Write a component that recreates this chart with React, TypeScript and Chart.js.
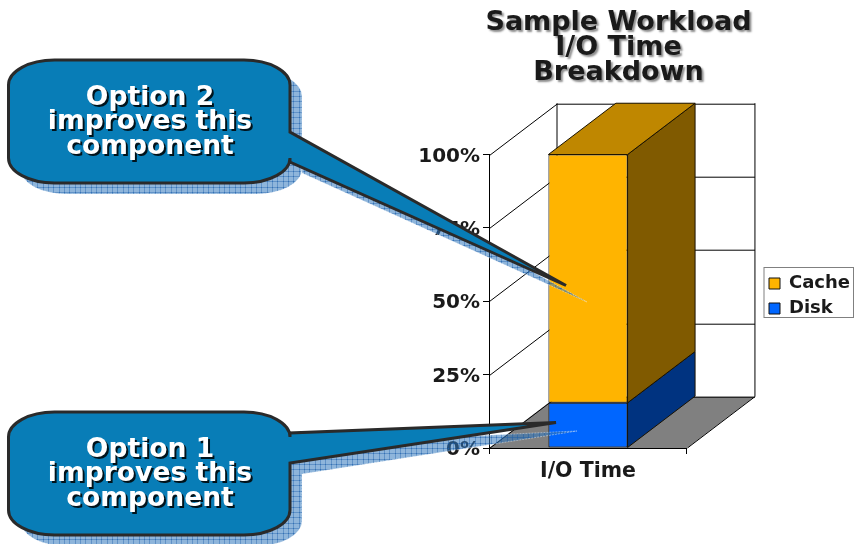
import React, { useEffect, useRef } from "react";
import { Chart, registerables } from "chart.js";

Chart.register(...registerables);

const categories = ["I/O Time"];
const diskValues = [15.4];
const cacheValues = [84.6];
const titleLines = ["Sample Workload", "I/O Time", "Breakdown"];
const option2Lines = ["Option 2", "improves this", "component"];
const option1Lines = ["Option 1", "improves this", "component"];

const FONT = '"DejaVu Sans", Verdana, sans-serif';
const DX = 67.5;
const DY = -51.3;

type Callout = {
  lines: string[];
  top: number;
  baseA: number;
  baseB: number;
  tip: [number, number];
  shadowTip: [number, number];
};

const callouts: Callout[] = [
  { lines: option2Lines, top: 60, baseA: 132, baseB: 162, tip: [566, 285.5], shadowTip: [587, 302] },
  { lines: option1Lines, top: 412, baseA: 433, baseB: 463, tip: [556, 422.5], shadowTip: [577, 431] },
];

function bubblePath(ctx: CanvasRenderingContext2D, ox: number, oy: number, c: Callout, tip: [number, number]) {
  const l = 8.5 + ox, r = 290 + ox, t = c.top + oy, b = c.top + 123 + oy;
  const rx = 46, ry = 25;
  ctx.beginPath();
  ctx.moveTo(l + rx, t);
  ctx.lineTo(r - rx, t);
  ctx.ellipse(r - rx, t + ry, rx, ry, 0, -Math.PI / 2, 0);
  ctx.lineTo(r, c.baseA + oy);
  ctx.lineTo(tip[0], tip[1]);
  ctx.lineTo(r, c.baseB + oy);
  ctx.lineTo(r, b - ry);
  ctx.ellipse(r - rx, b - ry, rx, ry, 0, 0, Math.PI / 2);
  ctx.lineTo(l + rx, b);
  ctx.ellipse(l + rx, b - ry, rx, ry, 0, Math.PI / 2, Math.PI);
  ctx.lineTo(l, t + ry);
  ctx.ellipse(l + rx, t + ry, rx, ry, 0, Math.PI, Math.PI * 1.5);
  ctx.closePath();
}

function shadowPattern(ctx: CanvasRenderingContext2D) {
  const tile = document.createElement("canvas");
  tile.width = 16;
  tile.height = 16;
  const t = tile.getContext("2d")!;
  t.fillStyle = "rgba(50,120,190,0.55)";
  t.fillRect(0, 0, 16, 16);
  [0, 5, 11].forEach((p) => {
    t.clearRect(0, p, 16, 1);
    t.clearRect(p, 0, 1, 16);
  });
  t.fillStyle = "rgba(30,100,175,0.7)";
  [0, 5, 11].forEach((p) => {
    t.fillRect(0, p, 16, 1);
    t.fillRect(p, 0, 1, 16);
  });
  return ctx.createPattern(tile, "repeat")!;
}

const scenePlugin = {
  id: "scene",
  afterLayout(chart: any) {
    const title = chart.titleBlock;
    title.left = 383;
    title.right = 854;
    const legend = chart.legend;
    legend.left = 762;
    legend.right = 854;
    legend.top = 257.5;
    legend.bottom = 334.5;
    if (!title.__patched) {
      const draw = title.draw.bind(title);
      title.draw = () => {
        const c = chart.ctx;
        c.save();
        c.shadowColor = "rgba(0,0,0,0.45)";
        c.shadowOffsetX = 2;
        c.shadowOffsetY = 2;
        c.shadowBlur = 2;
        draw();
        c.restore();
      };
      title.__patched = true;
    }
  },
  beforeDraw(chart: any) {
    const { ctx, chartArea: a, scales } = chart;
    const y = scales.y;
    ctx.save();
    ctx.fillStyle = "#ffffff";
    ctx.fillRect(0, 0, chart.width, chart.height);
    // floor
    ctx.fillStyle = "#808080";
    ctx.beginPath();
    ctx.moveTo(a.left, a.bottom);
    ctx.lineTo(a.left + DX, a.bottom + DY);
    ctx.lineTo(a.right + DX, a.bottom + DY);
    ctx.lineTo(a.right, a.bottom);
    ctx.closePath();
    ctx.fill();
    // side and back wall gridlines
    ctx.strokeStyle = "#000000";
    ctx.lineWidth = 1;
    y.ticks.forEach((t: any) => {
      const py = Math.round(y.getPixelForValue(t.value)) + 0.5;
      ctx.beginPath();
      ctx.moveTo(a.left + 0.5, py);
      ctx.lineTo(a.left + DX + 0.5, py + DY);
      ctx.lineTo(a.right + DX + 0.5, py + DY);
      ctx.stroke();
    });
    ctx.beginPath();
    ctx.moveTo(a.left + DX + 0.5, a.top + DY);
    ctx.lineTo(a.left + DX + 0.5, a.bottom + DY);
    ctx.moveTo(a.right + DX + 0.5, a.top + DY);
    ctx.lineTo(a.right + DX + 0.5, a.bottom + DY);
    ctx.moveTo(a.right + 0.5, a.bottom);
    ctx.lineTo(a.right + DX + 0.5, a.bottom + DY);
    ctx.stroke();
    // legend frame
    ctx.strokeStyle = "#808080";
    ctx.strokeRect(764, 267.5, 89.5, 50);
    ctx.restore();
  },
  beforeDatasetsDraw(chart: any) {
    const { ctx } = chart;
    ctx.save();
    ctx.strokeStyle = "#1a1200";
    ctx.lineWidth = 1;
    chart.data.datasets.forEach((ds: any, i: number) => {
      const bar = chart.getDatasetMeta(i).data[0] as any;
      const right = bar.x + bar.width / 2;
      const left = bar.x - bar.width / 2;
      ctx.fillStyle = ds.sideColor;
      ctx.beginPath();
      ctx.moveTo(right, bar.y);
      ctx.lineTo(right + DX, bar.y + DY);
      ctx.lineTo(right + DX, bar.base + DY);
      ctx.lineTo(right, bar.base);
      ctx.closePath();
      ctx.fill();
      ctx.stroke();
      if (i === chart.data.datasets.length - 1) {
        ctx.fillStyle = ds.topColor;
        ctx.beginPath();
        ctx.moveTo(left, bar.y);
        ctx.lineTo(left + DX, bar.y + DY);
        ctx.lineTo(right + DX, bar.y + DY);
        ctx.lineTo(right, bar.y);
        ctx.closePath();
        ctx.fill();
        ctx.stroke();
      }
    });
    ctx.restore();
  },
  afterDraw(chart: any) {
    const { ctx } = chart;
    const pattern = shadowPattern(ctx);
    callouts.forEach((c) => {
      ctx.save();
      bubblePath(ctx, 12, 11, c, c.shadowTip);
      ctx.fillStyle = pattern;
      ctx.fill();
      ctx.setLineDash([2, 1]);
      ctx.strokeStyle = "rgba(255,255,255,0.7)";
      ctx.lineWidth = 0.6;
      ctx.stroke();
      ctx.setLineDash([]);
      bubblePath(ctx, 0, 0, c, c.tip);
      ctx.fillStyle = "#087db7";
      ctx.fill();
      ctx.strokeStyle = "#2a2a2a";
      ctx.lineWidth = 3;
      ctx.lineJoin = "miter";
      ctx.stroke();
      ctx.font = `bold 26.6px ${FONT}`;
      ctx.textAlign = "center";
      ctx.textBaseline = "middle";
      ctx.fillStyle = "#ffffff";
      ctx.shadowColor = "rgba(0,0,0,0.85)";
      ctx.shadowOffsetX = 2;
      ctx.shadowOffsetY = 2;
      ctx.shadowBlur = 0;
      c.lines.forEach((line, i) => {
        ctx.fillText(line, 150, c.top + 37.7 + i * 24.5);
      });
      ctx.restore();
    });
  },
};

export default function App() {
  const ref = useRef<HTMLCanvasElement>(null);
  useEffect(() => {
    const chart = new Chart(ref.current!, {
      type: "bar",
      data: {
        labels: categories,
        datasets: [
          {
            label: "Disk",
            data: diskValues,
            backgroundColor: "#0066ff",
            borderColor: "#101010",
            borderWidth: 1,
            borderSkipped: false,
            sideColor: "#003380",
          } as any,
          {
            label: "Cache",
            data: cacheValues,
            backgroundColor: "#ffb400",
            borderColor: "#101010",
            borderWidth: 1,
            borderSkipped: false,
            sideColor: "#805a00",
            topColor: "#bf8700",
          } as any,
        ],
      },
      options: {
        responsive: false,
        animation: false,
        layout: { padding: { right: 69 } },
        datasets: { bar: { barPercentage: 0.4, categoryPercentage: 1 } },
        scales: {
          x: {
            stacked: true,
            afterFit: (s: any) => {
              s.height = 96;
            },
            border: { color: "#000", width: 1 },
            grid: { drawOnChartArea: false, color: "#000", tickLength: 6, offset: true },
            ticks: { color: "#1a1a1a", font: { family: FONT, size: 20.5, weight: "bold" }, padding: 5 },
          },
          y: {
            stacked: true,
            min: 0,
            max: 100,
            afterFit: (s: any) => {
              s.width = 489;
            },
            border: { color: "#000", width: 1 },
            grid: { drawOnChartArea: false, color: "#000", tickLength: 6 },
            ticks: {
              stepSize: 25,
              color: "#1a1a1a",
              padding: 3,
              labelOffset: 2,
              font: { family: FONT, size: 20, weight: "bold" },
              callback: (v: any) => `${v}%`,
            },
          },
        },
        plugins: {
          title: {
            display: true,
            text: titleLines,
            color: "#1a1a1a",
            font: { family: FONT, size: 27, weight: "bold", lineHeight: 0.92 },
            padding: { top: 10.5, bottom: 69.5 },
          },
          legend: {
            display: true,
            position: "right",
            reverse: true,
            labels: {
              boxWidth: 11,
              boxHeight: 11,
              padding: 7,
              color: "#1a1a1a",
              font: { family: FONT, size: 18, weight: "bold" },
            },
          },
          tooltip: { enabled: false },
        },
      } as any,
      plugins: [scenePlugin],
    });
    return () => chart.destroy();
  }, []);
  return (
    <canvas
      ref={ref}
      width={854}
      height={544}
      style={{ position: "absolute", left: 0, top: 0, display: "block" }}
    />
  );
}
